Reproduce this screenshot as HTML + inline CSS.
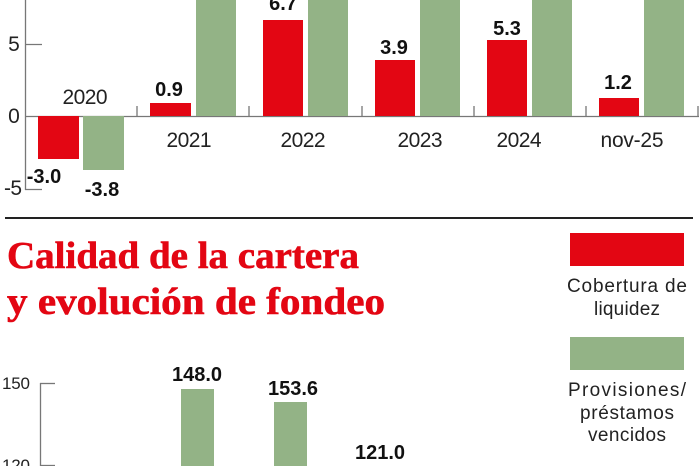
<!DOCTYPE html>
<html><head><meta charset="utf-8"><style>
body{margin:0;background:#fff;}
svg{display:block}
.t{font-family:"Liberation Sans",sans-serif;}
</style></head><body>
<svg width="699" height="466" xmlns="http://www.w3.org/2000/svg">
<rect width="699" height="466" fill="#fff"/>
<g fill="none" stroke="#777" stroke-width="1.3">
<line x1="25.5" y1="0" x2="25.5" y2="190"/>
<line x1="25" y1="44.5" x2="42" y2="44.5"/>
<line x1="25" y1="189.5" x2="42" y2="189.5"/>
<line x1="25" y1="116.5" x2="699" y2="116.5"/>
<line x1="137" y1="106" x2="137" y2="116"/>
<line x1="249" y1="106" x2="249" y2="116"/>
<line x1="362" y1="106" x2="362" y2="116"/>
<line x1="474" y1="106" x2="474" y2="116"/>
<line x1="586" y1="106" x2="586" y2="116"/>
<line x1="698" y1="106" x2="698" y2="116"/>
</g>
<g fill="#e30613">
<rect x="38" y="116" width="41" height="43"/>
<rect x="150" y="103" width="41" height="13"/>
<rect x="263" y="20" width="40" height="96"/>
<rect x="375" y="60" width="40" height="56"/>
<rect x="487" y="40" width="40" height="76"/>
<rect x="599" y="98" width="40" height="18"/>
</g>
<g fill="#93b386">
<rect x="83" y="116" width="41" height="54"/>
<rect x="196" y="0" width="40" height="116"/>
<rect x="308" y="0" width="40" height="116"/>
<rect x="420" y="0" width="40" height="116"/>
<rect x="532" y="0" width="40" height="116"/>
<rect x="644" y="0" width="40" height="116"/>
</g>
<g class="t" font-size="21" fill="#222" text-anchor="middle" lengthAdjust="spacingAndGlyphs">
<text x="14" y="51" textLength="11">5</text>
<text x="14" y="123" textLength="11">0</text>
<text x="13" y="195" textLength="18">-5</text>
<text x="85" y="104" textLength="45">2020</text>
<text x="189" y="147" textLength="45">2021</text>
<text x="303" y="147" textLength="45">2022</text>
<text x="420" y="147" textLength="45">2023</text>
<text x="519" y="147" textLength="45">2024</text>
<text x="632" y="147" textLength="63">nov-25</text>
</g>
<g class="t" font-size="20" font-weight="bold" fill="#111" text-anchor="middle">
<text x="44" y="183">-3.0</text>
<text x="102" y="196">-3.8</text>
<text x="169" y="96">0.9</text>
<text x="283" y="10">6.7</text>
<text x="394" y="54">3.9</text>
<text x="507" y="35">5.3</text>
<text x="618" y="89">1.2</text>
</g>
<line x1="5" y1="218" x2="693" y2="218" stroke="#222" stroke-width="2"/>
<g font-family="Liberation Serif,serif" font-weight="bold" font-size="38" fill="#e30613" stroke="#e30613" stroke-width="0.6">
<text x="7" y="268" textLength="352" lengthAdjust="spacingAndGlyphs">Calidad de la cartera</text>
<text x="7" y="314" textLength="378" lengthAdjust="spacingAndGlyphs">y evolución de fondeo</text>
</g>
<rect x="570" y="233" width="114" height="33" fill="#e30613"/>
<rect x="570" y="337" width="114" height="33" fill="#93b386"/>
<g class="t" font-size="19" fill="#222" text-anchor="middle" lengthAdjust="spacingAndGlyphs">
<text x="627" y="292" textLength="120">Cobertura de</text>
<text x="627" y="315" textLength="66">liquidez</text>
<text x="627" y="396" textLength="118">Provisiones/</text>
<text x="627" y="419" textLength="94">préstamos</text>
<text x="627" y="441" textLength="78">vencidos</text>
</g>
<g fill="none" stroke="#777" stroke-width="1.3">
<line x1="40.5" y1="383" x2="40.5" y2="466"/>
<line x1="40" y1="383.5" x2="55" y2="383.5"/>
<line x1="40" y1="465.5" x2="55" y2="465.5"/>
</g>
<g class="t" font-size="17" fill="#222" lengthAdjust="spacingAndGlyphs">
<text x="2" y="389" textLength="28">150</text>
<text x="2" y="471" textLength="28">120</text>
</g>
<g fill="#93b386">
<rect x="181" y="389" width="33" height="77"/>
<rect x="274" y="402" width="33" height="64"/>
</g>
<g class="t" font-size="20" font-weight="bold" fill="#111" text-anchor="middle">
<text x="197" y="381">148.0</text>
<text x="293" y="395">153.6</text>
<text x="380" y="459">121.0</text>
</g>
</svg>
</body></html>
